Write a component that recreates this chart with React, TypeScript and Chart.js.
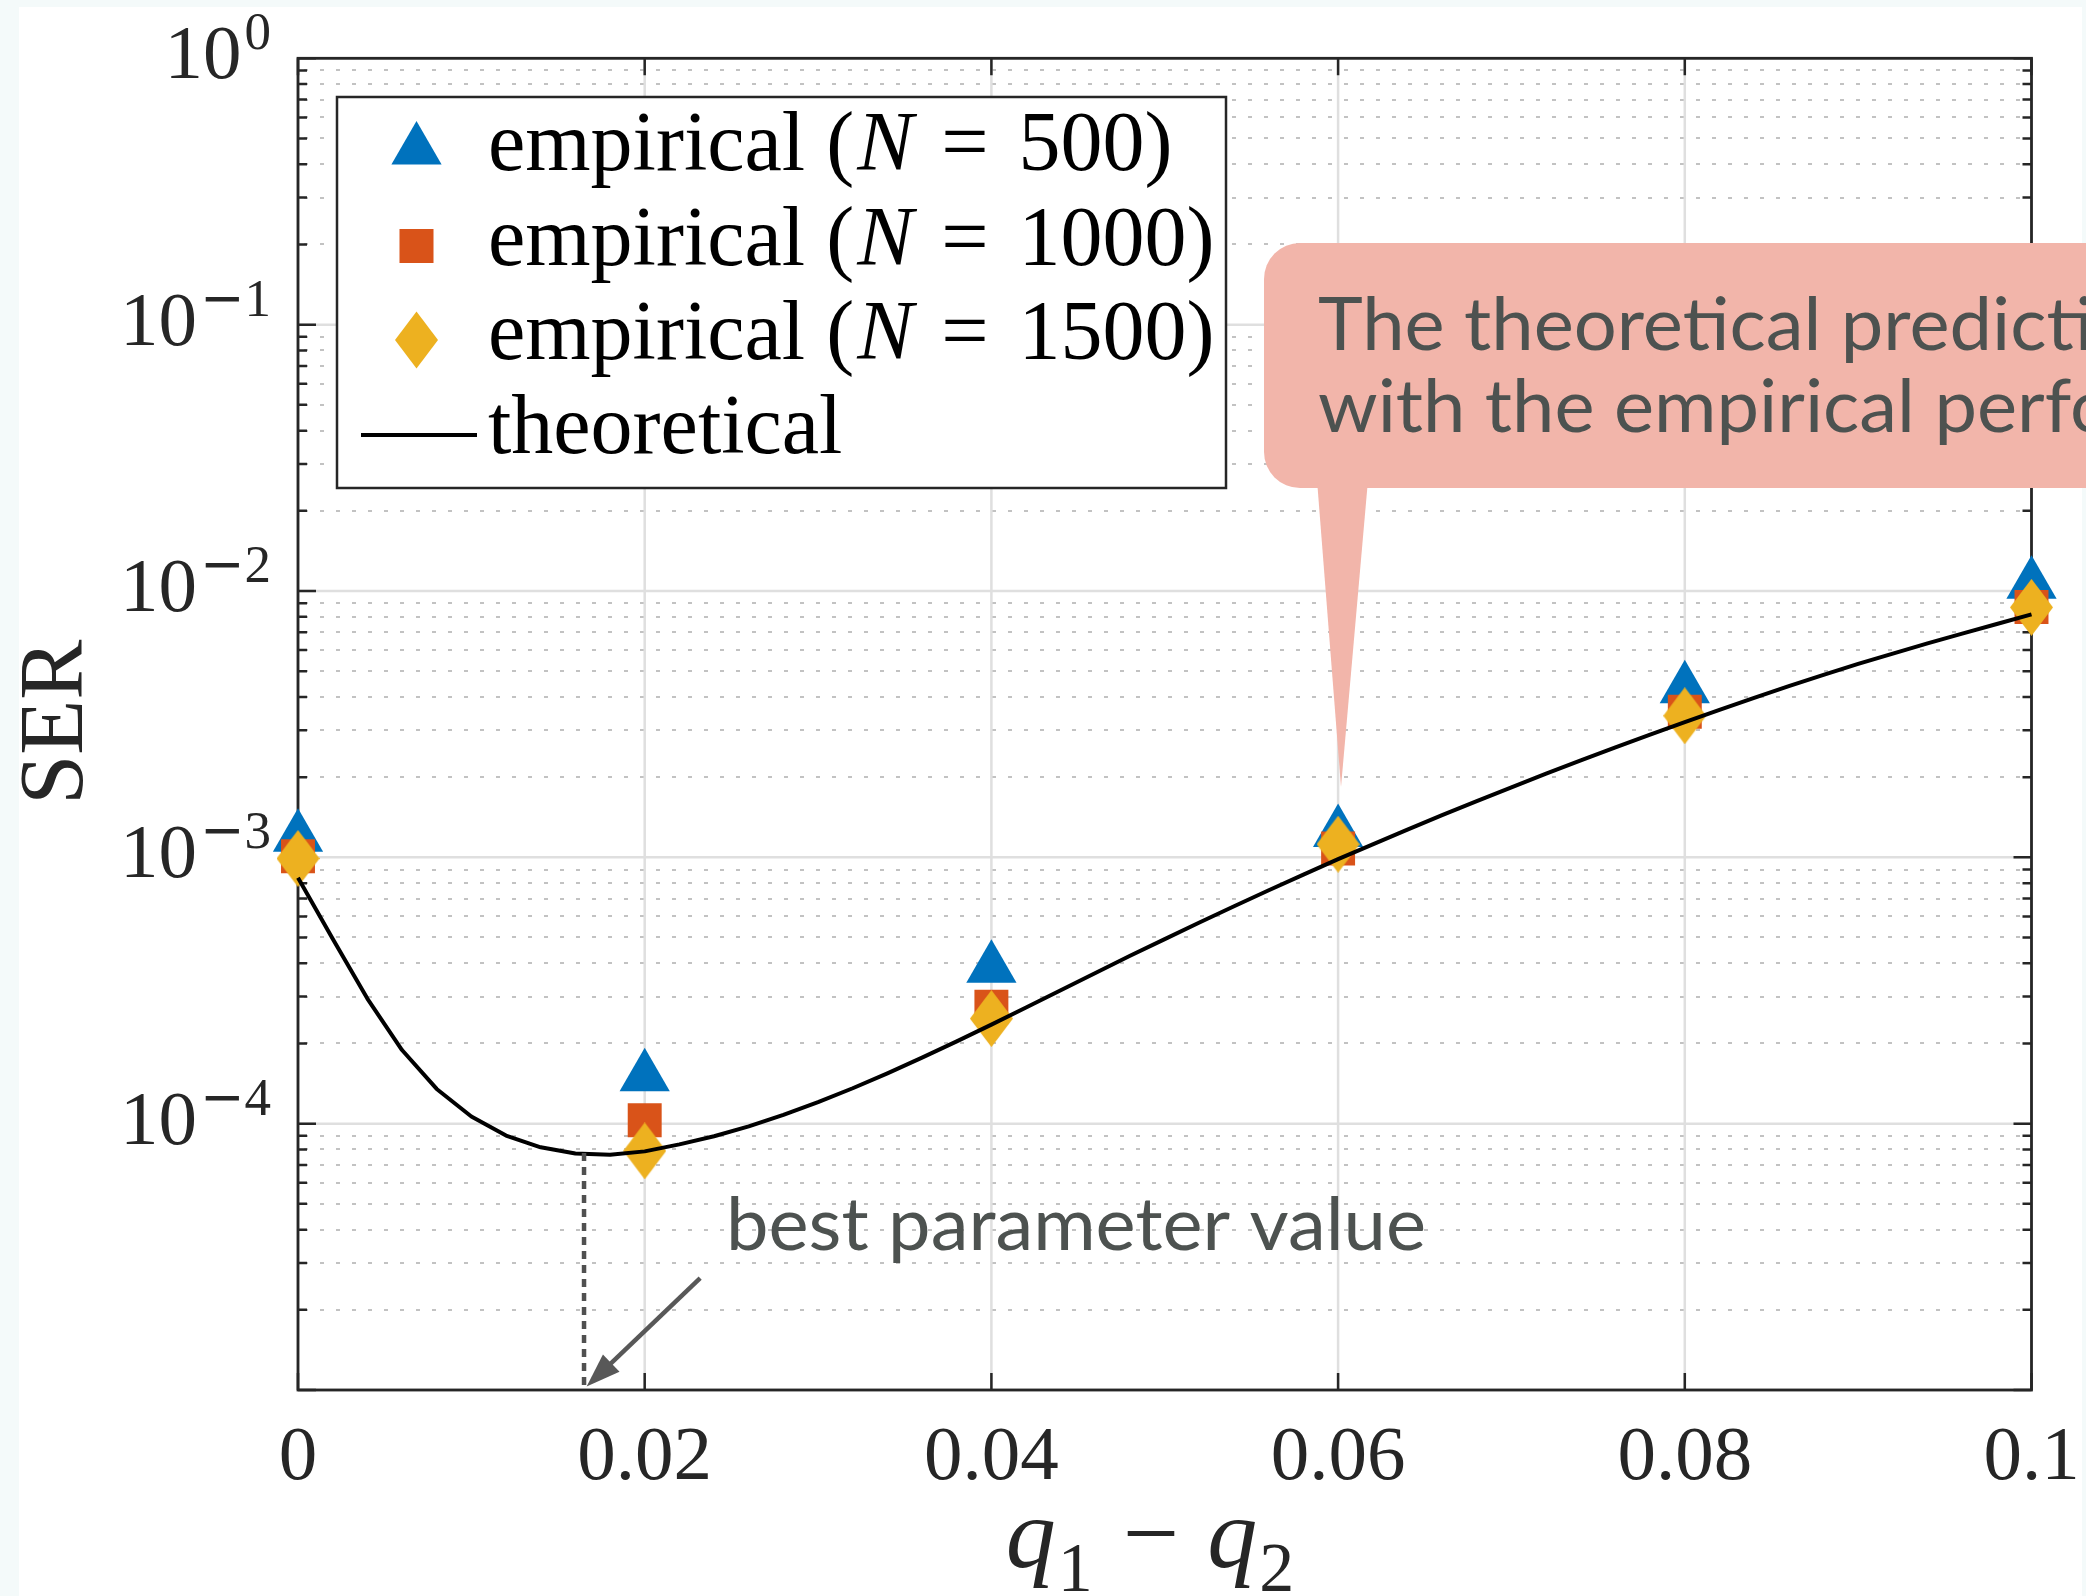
import React, { useEffect, useRef } from 'react';
import { Chart, registerables } from 'chart.js';

Chart.register(...registerables);

const W = 2086;
const H = 1596;

// ---------- data ----------
const qValues = [0, 0.02, 0.04, 0.06, 0.08, 0.1];
const serN500 = [1.19e-3, 1.5e-4, 3.83e-4, 1.24e-3, 4.29e-3, 1.06e-2];
const serN1000 = [1.01e-3, 1.03e-4, 2.75e-4, 1.08e-3, 3.52e-3, 8.7e-3];
const serN1500 = [0.99e-3, 7.9e-5, 2.48e-4, 1.12e-3, 3.4e-3, 8.68e-3];

const theoryQ = [
  0, 0.002, 0.004, 0.006, 0.008, 0.01, 0.012, 0.014, 0.016, 0.018,
  0.02, 0.022, 0.024, 0.026, 0.028, 0.03, 0.032, 0.034, 0.036, 0.038,
  0.04, 0.042, 0.044, 0.046, 0.048, 0.05, 0.052, 0.054, 0.056, 0.058,
  0.06, 0.062, 0.064, 0.066, 0.068, 0.07, 0.072, 0.074, 0.076, 0.078,
  0.08, 0.082, 0.084, 0.086, 0.088, 0.09, 0.092, 0.094, 0.096, 0.098, 0.1,
];
const theorySER = [
  8.38e-4, 4.95e-4, 2.95e-4, 1.89e-4, 1.35e-4, 1.064e-4, 9.02e-5, 8.15e-5, 7.73e-5, 7.64e-5,
  7.87e-5, 8.36e-5, 8.97e-5, 9.77e-5, 1.079e-4, 1.205e-4, 1.358e-4, 1.545e-4, 1.77e-4, 2.037e-4,
  2.355e-4, 2.729e-4, 3.17e-4, 3.68e-4, 4.27e-4, 4.93e-4, 5.69e-4, 6.55e-4, 7.52e-4, 8.61e-4,
  9.84e-4, 1.119e-3, 1.271e-3, 1.439e-3, 1.626e-3, 1.832e-3, 2.061e-3, 2.312e-3, 2.588e-3, 2.891e-3,
  3.221e-3, 3.581e-3, 3.972e-3, 4.395e-3, 4.842e-3, 5.321e-3, 5.821e-3, 6.353e-3, 6.918e-3, 7.516e-3, 8.166e-3,
];

const xTickValues = [0, 0.02, 0.04, 0.06, 0.08, 0.1];
const xTickLabels = ['0', '0.02', '0.04', '0.06', '0.08', '0.1'];
const yLabelExponents = [0, -1, -2, -3, -4];
const yMajorExponents = [-5, -4, -3, -2, -1, 0];
const yMinorDecades = [-5, -4, -3, -2, -1];
const yMinorMultipliers = [2, 3, 4, 5, 6, 7, 8, 9];
const legendSizes = ['500', '1000', '1500'];
const legendTheory = 'theoretical';

const bestQ = 0.0165;
const bestSER = 7.76e-5;
const arrowFrom = { q: 0.0232, ser: 2.63e-5 };
const arrowTo = { q: 0.01665, ser: 1.03e-5 };
const annotationText = 'best parameter value';
const calloutLines = ['The theoretical prediction agrees well', 'with the empirical performance.'];

// ---------- style ----------
const C500 = '#0072BD';
const C1000 = '#D95319';
const C1500 = '#EDB120';
const AX = '#262626';
const SERIF = '"Liberation Serif", "Times New Roman", serif';
const SANS = 'Lato, "Noto Sans", sans-serif';
const NOTE_COLOR = '#4D5250';
const PINK = '#F2B5AA';

function makeDiamond(w: number, h: number, color: string) {
  const c = document.createElement('canvas');
  c.width = w;
  c.height = h;
  const g = c.getContext('2d')!;
  g.fillStyle = color;
  g.beginPath();
  g.moveTo(w / 2, 0);
  g.lineTo(w, h / 2);
  g.lineTo(w / 2, h);
  g.lineTo(0, h / 2);
  g.closePath();
  g.fill();
  return c;
}

function triPath(ctx: any, x: number, y: number, r: number) {
  ctx.beginPath();
  ctx.moveTo(x, y - r);
  ctx.lineTo(x + Math.sin((2 * Math.PI) / 3) * r, y + r / 2);
  ctx.lineTo(x - Math.sin((2 * Math.PI) / 3) * r, y + r / 2);
  ctx.closePath();
}

function roundRect(ctx: any, x: number, y: number, w: number, h: number, r: number) {
  ctx.beginPath();
  ctx.moveTo(x + r, y);
  ctx.lineTo(x + w - r, y);
  ctx.arcTo(x + w, y, x + w, y + r, r);
  ctx.lineTo(x + w, y + h - r);
  ctx.arcTo(x + w, y + h, x + w - r, y + h, r);
  ctx.lineTo(x + r, y + h);
  ctx.arcTo(x, y + h, x, y + h - r, r);
  ctx.lineTo(x, y + r);
  ctx.arcTo(x, y, x + r, y, r);
  ctx.closePath();
}

const decorPlugin = {
  id: 'decor',
  beforeDraw(chart: any) {
    const ctx = chart.ctx;
    ctx.save();
    ctx.fillStyle = '#F4FAFA';
    ctx.fillRect(0, 0, W, H);
    ctx.fillStyle = '#FFFFFF';
    ctx.fillRect(19, 7, 2063, H - 7);
    ctx.restore();
  },
  beforeDatasetsDraw(chart: any) {
    const ctx = chart.ctx;
    const xs = chart.scales.x;
    const ys = chart.scales.y;
    const a = chart.chartArea;
    ctx.save();
    // minor dotted grid
    ctx.strokeStyle = '#C2C2C2';
    ctx.lineWidth = 2;
    ctx.setLineDash([4, 12]);
    for (const e of yMinorDecades) {
      for (const m of yMinorMultipliers) {
        const y = Math.round(ys.getPixelForValue(m * Math.pow(10, e)));
        ctx.beginPath();
        ctx.moveTo(a.left + 6, y);
        ctx.lineTo(a.right, y);
        ctx.stroke();
      }
    }
    ctx.setLineDash([]);
    // major grid
    ctx.strokeStyle = '#DFDFDF';
    ctx.lineWidth = 2.5;
    for (const e of yMajorExponents) {
      const y = ys.getPixelForValue(Math.pow(10, e));
      ctx.beginPath();
      ctx.moveTo(a.left, y);
      ctx.lineTo(a.right, y);
      ctx.stroke();
    }
    for (const v of xTickValues) {
      const x = xs.getPixelForValue(v);
      ctx.beginPath();
      ctx.moveTo(x, a.top);
      ctx.lineTo(x, a.bottom);
      ctx.stroke();
    }
    // ticks
    ctx.strokeStyle = AX;
    ctx.lineWidth = 2.5;
    for (const v of xTickValues) {
      const x = xs.getPixelForValue(v);
      ctx.beginPath();
      ctx.moveTo(x, a.bottom);
      ctx.lineTo(x, a.bottom - 17);
      ctx.moveTo(x, a.top);
      ctx.lineTo(x, a.top + 17);
      ctx.stroke();
    }
    for (const e of yMajorExponents) {
      const y = ys.getPixelForValue(Math.pow(10, e));
      ctx.beginPath();
      ctx.moveTo(a.left, y);
      ctx.lineTo(a.left + 18, y);
      ctx.moveTo(a.right, y);
      ctx.lineTo(a.right - 18, y);
      ctx.stroke();
    }
    for (const e of yMinorDecades) {
      for (const m of yMinorMultipliers) {
        const y = ys.getPixelForValue(m * Math.pow(10, e));
        ctx.beginPath();
        ctx.moveTo(a.left, y);
        ctx.lineTo(a.left + 9, y);
        ctx.moveTo(a.right, y);
        ctx.lineTo(a.right - 9, y);
        ctx.stroke();
      }
    }
    // box
    ctx.lineWidth = 2.8;
    ctx.strokeRect(a.left, a.top, a.right - a.left, a.bottom - a.top);
    ctx.restore();
  },
  afterDatasetsDraw(chart: any) {
    const ctx = chart.ctx;
    const xs = chart.scales.x;
    const ys = chart.scales.y;
    const a = chart.chartArea;
    ctx.save();

    // dotted vertical line at best parameter
    const bx = xs.getPixelForValue(bestQ);
    ctx.strokeStyle = '#505050';
    ctx.lineWidth = 4.5;
    ctx.setLineDash([8, 6]);
    ctx.beginPath();
    ctx.moveTo(bx, ys.getPixelForValue(bestSER));
    ctx.lineTo(bx, a.bottom);
    ctx.stroke();
    ctx.setLineDash([]);

    // arrow
    const x1 = xs.getPixelForValue(arrowFrom.q);
    const y1 = ys.getPixelForValue(arrowFrom.ser);
    const x2 = xs.getPixelForValue(arrowTo.q);
    const y2 = ys.getPixelForValue(arrowTo.ser);
    const ang = Math.atan2(y2 - y1, x2 - x1);
    const hl = 34;
    const hw = 12;
    ctx.strokeStyle = '#585858';
    ctx.fillStyle = '#585858';
    ctx.lineWidth = 4.5;
    ctx.beginPath();
    ctx.moveTo(x1, y1);
    ctx.lineTo(x2 - Math.cos(ang) * (hl - 4), y2 - Math.sin(ang) * (hl - 4));
    ctx.stroke();
    ctx.beginPath();
    ctx.moveTo(x2, y2);
    ctx.lineTo(x2 - Math.cos(ang) * hl - Math.sin(ang) * hw, y2 - Math.sin(ang) * hl + Math.cos(ang) * hw);
    ctx.lineTo(x2 - Math.cos(ang) * hl + Math.sin(ang) * hw, y2 - Math.sin(ang) * hl - Math.cos(ang) * hw);
    ctx.closePath();
    ctx.fill();

    // x tick labels
    ctx.fillStyle = AX;
    ctx.textBaseline = 'alphabetic';
    ctx.font = `77px ${SERIF}`;
    ctx.textAlign = 'center';
    xTickValues.forEach((v, i) => {
      ctx.fillText(xTickLabels[i], xs.getPixelForValue(v), 1479);
    });

    // y tick labels 10^k
    const rightEdge = 271;
    for (const e of yLabelExponents) {
      const y = ys.getPixelForValue(Math.pow(10, e));
      const digit = String(Math.abs(e));
      ctx.textAlign = 'left';
      ctx.font = `53px ${SERIF}`;
      const wd = ctx.measureText(digit).width;
      let wm = 0;
      if (e < 0) {
        ctx.font = `53px "DejaVu Sans", sans-serif`;
        wm = ctx.measureText('\u2212').width;
      }
      const supStart = rightEdge - wd - wm;
      if (e < 0) {
        ctx.font = `53px "DejaVu Sans", sans-serif`;
        ctx.fillText('\u2212', supStart, y + 20 - 29);
      }
      ctx.font = `53px ${SERIF}`;
      ctx.fillText(digit, supStart + wm, y + 20 - 29);
      ctx.font = `77px ${SERIF}`;
      ctx.textAlign = 'right';
      ctx.fillText('10', supStart - 3, y + 20);
    }

    // axis titles
    ctx.save();
    ctx.translate(82, (a.top + a.bottom) / 2 - 2);
    ctx.rotate(-Math.PI / 2);
    ctx.textAlign = 'center';
    ctx.font = `90px ${SERIF}`;
    ctx.fillText('SER', 0, 0);
    ctx.restore();

    {
      const base = 1567;
      const parts: any[] = [
        { t: 'q', f: `italic 100px ${SERIF}`, dy: 0, gap: 2 },
        { t: '1', f: `70px ${SERIF}`, dy: 24, gap: 30 },
        { t: '\u2212', f: `100px ${SERIF}`, dy: 0, gap: 28 },
        { t: 'q', f: `italic 100px ${SERIF}`, dy: 0, gap: 2 },
        { t: '2', f: `70px ${SERIF}`, dy: 24, gap: 0 },
      ];
      let total = 0;
      for (const p of parts) {
        ctx.font = p.f;
        p.w = ctx.measureText(p.t).width;
        total += p.w + p.gap;
      }
      let cx = 1150 - total / 2;
      ctx.textAlign = 'left';
      for (const p of parts) {
        ctx.font = p.f;
        ctx.fillText(p.t, cx, base + p.dy);
        cx += p.w + p.gap;
      }
    }

    // legend
    {
      const lx = 337;
      const ly = 97;
      const lw = 889;
      const lh = 391;
      ctx.fillStyle = '#FFFFFF';
      ctx.fillRect(lx, ly, lw, lh);
      ctx.strokeStyle = AX;
      ctx.lineWidth = 2.5;
      ctx.strokeRect(lx, ly, lw, lh);
      const mx = 416.5;
      const baselines = [170, 265, 359, 453];
      ctx.fillStyle = C500;
      triPath(ctx, mx, baselines[0] - 20, 29);
      ctx.fill();
      ctx.fillStyle = C1000;
      ctx.fillRect(mx - 17, baselines[1] - 19 - 17, 34, 34);
      ctx.fillStyle = C1500;
      ctx.beginPath();
      ctx.moveTo(mx, baselines[2] - 19 - 28.5);
      ctx.lineTo(mx + 21.5, baselines[2] - 19);
      ctx.lineTo(mx, baselines[2] - 19 + 28.5);
      ctx.lineTo(mx - 21.5, baselines[2] - 19);
      ctx.closePath();
      ctx.fill();
      ctx.strokeStyle = '#000000';
      ctx.lineWidth = 4;
      ctx.beginPath();
      ctx.moveTo(361, baselines[3] - 18);
      ctx.lineTo(477, baselines[3] - 18);
      ctx.stroke();

      const tx = 488;
      const FS = 84;
      ctx.fillStyle = '#000000';
      ctx.textAlign = 'left';
      legendSizes.forEach((n, i) => {
        const b = baselines[i];
        let cx = tx;
        ctx.font = `${FS}px ${SERIF}`;
        ctx.fillText('empirical (', cx, b);
        cx += ctx.measureText('empirical (').width + 3;
        ctx.font = `italic ${FS}px ${SERIF}`;
        ctx.fillText('N', cx, b);
        cx += ctx.measureText('N').width + 28;
        ctx.font = `${FS}px ${SERIF}`;
        ctx.fillText('=', cx, b);
        cx += ctx.measureText('=').width + 30;
        ctx.fillText(n + ')', cx, b);
      });
      ctx.font = `${FS}px ${SERIF}`;
      ctx.fillText(legendTheory, tx, baselines[3]);
    }

    // annotation text
    ctx.font = `73px ${SANS}`;
    const sx = 700 / ctx.measureText(annotationText).width;
    ctx.fillStyle = NOTE_COLOR;
    ctx.textAlign = 'left';
    ctx.save();
    ctx.translate(726, 1250);
    ctx.scale(sx, 1);
    ctx.fillText(annotationText, 0, 0);
    ctx.restore();

    // callout
    ctx.fillStyle = PINK;
    roundRect(ctx, 1264, 243, 1000, 245, 36);
    ctx.fill();
    ctx.beginPath();
    ctx.moveTo(1317, 480);
    ctx.lineTo(1368, 480);
    ctx.lineTo(1341, 787);
    ctx.closePath();
    ctx.fill();
    ctx.fillStyle = NOTE_COLOR;
    ctx.font = `73px ${SANS}`;
    [350, 432].forEach((b, i) => {
      ctx.save();
      ctx.translate(1318, b);
      ctx.scale(sx, 1);
      ctx.fillText(calloutLines[i], 0, 0);
      ctx.restore();
    });

    ctx.restore();
  },
};

export default function App() {
  const ref = useRef<HTMLCanvasElement | null>(null);
  useEffect(() => {
    document.body.style.margin = '0';
    document.body.style.overflow = 'hidden';
    const canvas = ref.current!;
    const diamond = makeDiamond(43, 57, C1500);
    const pts = (ys: number[]) => qValues.map((q, i) => ({ x: q, y: ys[i] }));
    const chart = new Chart(canvas, {
      type: 'scatter',
      data: {
        datasets: [
          {
            label: legendTheory,
            data: theoryQ.map((q, i) => ({ x: q, y: theorySER[i] })),
            showLine: true,
            borderColor: '#000000',
            borderWidth: 4,
            borderJoinStyle: 'round',
            pointRadius: 0,
            tension: 0,
            order: 0,
            clip: false,
          } as any,
          {
            label: 'empirical (N = 1500)',
            data: pts(serN1500),
            pointStyle: diamond,
            pointRadius: 28,
            backgroundColor: C1500,
            borderWidth: 0,
            order: 1,
            clip: false,
          },
          {
            label: 'empirical (N = 1000)',
            data: pts(serN1000),
            pointStyle: 'rect',
            pointRadius: 24,
            backgroundColor: C1000,
            borderWidth: 0,
            order: 2,
            clip: false,
          },
          {
            label: 'empirical (N = 500)',
            data: pts(serN500),
            pointStyle: 'triangle',
            pointRadius: 29,
            backgroundColor: C500,
            borderWidth: 0,
            order: 3,
            clip: false,
          },
        ],
      },
      options: {
        responsive: false,
        animation: false,
        devicePixelRatio: 1,
        events: [],
        layout: { padding: { left: 298, right: 54.5, top: 58.3, bottom: 206 } },
        scales: {
          x: { type: 'linear', min: 0, max: 0.1, display: false },
          y: { type: 'logarithmic', min: 1e-5, max: 1, display: false },
        },
        plugins: { legend: { display: false }, tooltip: { enabled: false } },
      } as any,
      plugins: [decorPlugin as any],
    });
    return () => chart.destroy();
  }, []);
  return (
    <div style={{ width: W, height: H }}>
      <canvas ref={ref} width={W} height={H} style={{ display: 'block', width: W, height: H }} />
    </div>
  );
}
